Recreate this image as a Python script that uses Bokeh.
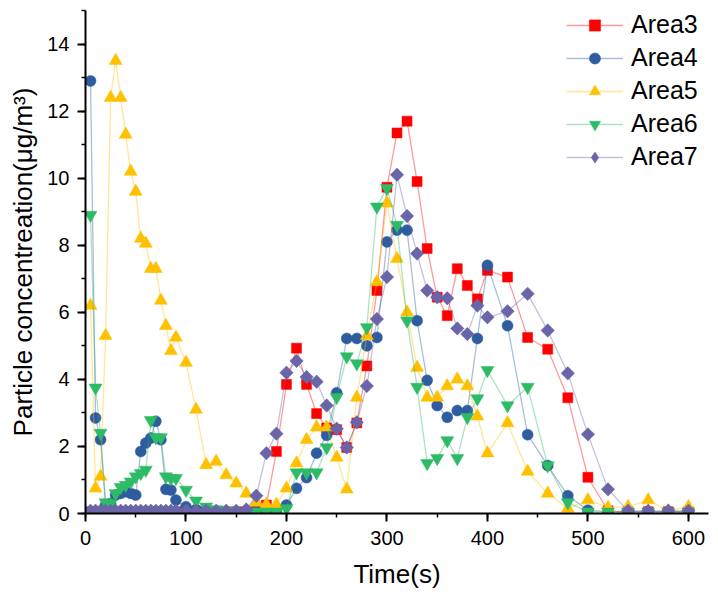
import math
from bokeh.plotting import figure
from bokeh.models import Range1d, SingleIntervalTicker, Legend, LegendItem
from bokeh.embed import file_html
from bokeh.resources import INLINE

# Sampling times (s): 5 s steps early on, then 10 s, then 20 s
time_s = [5, 10, 15, 20, 25, 30, 35, 40, 45, 50, 55, 60, 65, 70, 75, 80, 85, 90,
          100, 110, 120, 130, 140, 150, 160, 170, 180, 190,
          200, 210, 220, 230, 240, 250, 260, 270, 280, 290,
          300, 310, 320, 330, 340, 350, 360, 370, 380, 390,
          400, 420, 440, 460, 480, 500, 520, 540, 560, 580, 600]

# Particle concentration (ug/m3) per area
area3 = [0.05] * 18 + \
    [0.05, 0.05, 0.05, 0.05, 0.05, 0.05, 0.05, 0.1, 0.25, 1.85,
     3.85, 4.93, 3.85, 2.98, 2.55, 2.5, 1.97, 2.7, 4.4, 6.65,
     9.73, 11.35, 11.7, 9.9, 7.9, 6.45, 5.9, 7.3, 6.8, 6.4,
     7.25, 7.05, 5.25, 4.9, 3.45, 1.08, 0.08, 0.05, 0.05, 0.05, 0.05]

area4 = [12.9, 2.85, 2.2, 0.25, 0.3, 0.55, 0.6, 0.65, 0.6, 0.55, 1.85, 2.1, 2.25, 2.75, 2.2, 0.72, 0.7, 0.4,
         0.2, 0.12, 0.08, 0.05, 0.05, 0.05, 0.05, 0.05, 0.05, 0.05,
         0.25, 0.75, 1.07, 1.8, 2.33, 3.6, 5.22, 5.22, 5.0, 5.25,
         8.1, 8.45, 8.45, 5.75, 3.97, 3.22, 2.87, 3.07, 3.07, 5.22,
         7.4, 5.6, 2.35, 1.43, 0.53, 0.1, 0.05, 0.05, 0.05, 0.05, 0.05]

area5 = [6.2, 0.75, 1.1, 5.3, 12.4, 13.5, 12.4, 11.3, 10.2, 9.6, 8.2, 8.05, 7.3, 7.3, 6.35, 5.6, 4.85, 5.25,
         4.5, 3.1, 1.45, 1.55, 1.15, 0.9, 0.6, 0.33, 0.27, 0.27,
         0.75, 1.5, 2.2, 2.57, 2.57, 1.67, 0.72, 3.46, 5.3, 6.9,
         9.25, 7.6, 6.0, 4.35, 3.46, 3.46, 3.8, 4.0, 3.8, 2.9,
         1.8, 2.7, 1.25, 0.6, 0.15, 0.4, 0.18, 0.2, 0.4, 0.08, 0.2]

area6 = [8.9, 3.75, 2.4, 0.33, 0.3, 0.6, 0.78, 0.85, 0.95, 1.1, 1.2, 1.3, 2.78, 2.27, 2.27, 1.1, 1.05, 1.05,
         0.7, 0.38, 0.2, 0.12, 0.08, 0.05, 0.05, 0.05, 0.05, 0.05,
         0.15, 1.22, 1.22, 1.22, 1.97, 3.47, 4.68, 4.47, 5.55, 9.15,
         9.7, 8.6, 5.75, 3.77, 1.5, 1.65, 2.18, 1.65, 2.87, 3.43,
         4.27, 3.22, 3.77, 1.43, 0.33, 0.05, 0.05, 0.05, 0.05, 0.05, 0.05]

area7 = [0.08] * 18 + \
    [0.08, 0.08, 0.08, 0.08, 0.08, 0.08, 0.12, 0.53, 1.8, 2.38,
     4.2, 4.55, 4.07, 3.93, 3.22, 2.53, 1.97, 2.72, 3.8, 5.8,
     7.05, 10.1, 8.87, 7.75, 6.65, 6.45, 6.42, 5.52, 5.35, 6.2,
     5.85, 6.03, 6.55, 5.46, 4.18, 2.36, 0.72, 0.08, 0.08, 0.08, 0.08]

series_names = ["Area3", "Area4", "Area5", "Area6", "Area7"]
x_ticks_step = 100
y_ticks_step = 2

FONT = "Liberation Sans"

p = figure(width=718, height=601, output_backend="svg", toolbar_location=None,
           x_range=Range1d(0, 620), y_range=Range1d(0, 15),
           min_border_left=85, min_border_right=10,
           min_border_top=10, min_border_bottom=88)

p.outline_line_color = None
p.xgrid.visible = False
p.ygrid.visible = False
p.background_fill_color = "white"
p.border_fill_color = "white"

# marker: shape used on the data; key: shape shown in the legend
styles = [
    dict(color="#FF0000", marker="square", size=10, angle=0.0, key=None),
    dict(color="#2E5C9F", marker="circle", size=11, angle=0.0, key=None),
    dict(color="#FFC000", marker="triangle", size=13, angle=0.0, key=None),
    dict(color="#2DBB66", marker="inverted_triangle", size=13, angle=0.0, key=None),
    dict(color="#6A65A8", marker="square", size=9.5, angle=math.pi / 4, key="diamond"),
]

items = []
for name, ys, st in zip(series_names, [area3, area4, area5, area6, area7], styles):
    ln = p.line(time_s, ys, line_color=st["color"], line_alpha=0.4, line_width=1.3)
    key = None
    if st["key"]:
        # legend-shaped marker, drawn under the rotated squares (fully covered)
        key = p.scatter(time_s, ys, marker=st["key"], size=12,
                        fill_color=st["color"], line_color=st["color"], line_width=0.5)
    sc = p.scatter(time_s, ys, marker=st["marker"], size=st["size"], angle=st["angle"],
                   fill_color=st["color"], line_color=st["color"], line_width=0.5)
    items.append(LegendItem(label=name, renderers=[ln, key if key is not None else sc]))

legend = Legend(items=items, location="top_right", margin=0, padding=2,
                spacing=4, label_height=28, glyph_height=28, glyph_width=57,
                label_standoff=8, label_width=77,
                label_text_font=FONT, label_text_font_size="25px",
                label_text_color="black",
                background_fill_alpha=0, border_line_color=None)
p.add_layout(legend)

for ax, step in ((p.xaxis, x_ticks_step), (p.yaxis, y_ticks_step)):
    ax.ticker = SingleIntervalTicker(interval=step, num_minor_ticks=2)
    ax.axis_line_width = 2
    ax.axis_line_color = "black"
    ax.major_tick_line_width = 2
    ax.minor_tick_line_width = 1.5
    ax.major_tick_out = 8
    ax.major_tick_in = 0
    ax.minor_tick_out = 4
    ax.minor_tick_in = 0
    ax.major_label_text_font = FONT
    ax.major_label_text_font_size = "20px"
    ax.major_label_text_color = "black"
    ax.axis_label_text_font = FONT
    ax.axis_label_text_font_size = "26px"
    ax.axis_label_text_font_style = "normal"
    ax.axis_label_text_color = "black"

p.xaxis.axis_label = "Time(s)"
p.xaxis.major_label_standoff = 9
p.xaxis.axis_label_standoff = 11
p.yaxis.axis_label = "Particle concentreation(μg/m³)"
p.yaxis.major_label_standoff = 8
p.yaxis.axis_label_standoff = 6

with open("out.html", "w") as f:
    f.write(file_html(p, INLINE))
